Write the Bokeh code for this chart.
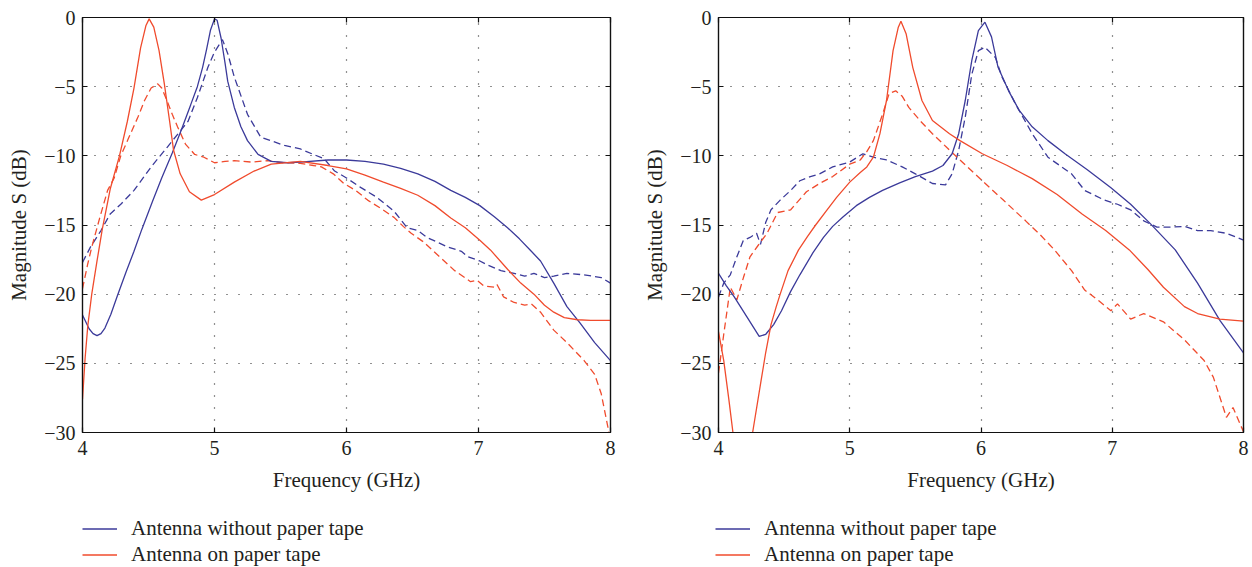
from bokeh.plotting import figure
from bokeh.layouts import row, column
from bokeh.models import LinearAxis, FixedTicker, Legend, LegendItem, Range1d
from bokeh.embed import file_html
from bokeh.resources import INLINE

FONT = "Liberation Serif"
BLUE = "#3b3a9a"
RED = "#f04b2d"
TXT = "#231f20"

x_ticks = [4, 5, 6, 7, 8]
y_ticks = [-30, -25, -20, -15, -10, -5, 0]
legend_labels = ["Antenna without paper tape", "Antenna on paper tape"]
x_label = "Frequency (GHz)"
y_label = "Magnitude S (dB)"

# ---------------- left panel ----------------
L_blue_solid_f = [4.00, 4.05, 4.08, 4.11, 4.14, 4.17, 4.215, 4.265, 4.33, 4.39, 4.45, 4.53, 4.60, 4.68, 4.75, 4.82, 4.87, 4.91, 4.94, 4.97, 5.00, 5.02, 5.05, 5.08, 5.10, 5.15, 5.20, 5.25, 5.33, 5.43, 5.55, 5.65, 5.86, 6.00, 6.14, 6.28, 6.41, 6.54, 6.67, 6.79, 6.90, 7.01, 7.12, 7.22, 7.31, 7.40, 7.47, 7.57, 7.67, 7.77, 7.88, 8.00]
L_blue_solid_db = [-21.5, -22.5, -22.85, -23.0, -22.85, -22.45, -21.45, -20.1, -18.4, -16.9, -15.3, -13.3, -11.6, -9.8, -8.1, -6.3, -5.0, -3.6, -2.3, -0.9, -0.1, -0.2, -1.5, -3.3, -4.6, -6.5, -7.9, -8.9, -9.9, -10.4, -10.5, -10.45, -10.3, -10.3, -10.4, -10.6, -10.9, -11.3, -11.85, -12.5, -13.0, -13.6, -14.4, -15.2, -16.0, -16.9, -17.6, -19.2, -20.9, -22.1, -23.5, -24.8]

L_red_solid_f = [4.00, 4.02, 4.04, 4.07, 4.11, 4.15, 4.21, 4.28, 4.34, 4.39, 4.44, 4.48, 4.505, 4.54, 4.58, 4.62, 4.66, 4.69, 4.74, 4.81, 4.90, 5.00, 5.15, 5.30, 5.43, 5.65, 5.86, 6.00, 6.14, 6.28, 6.41, 6.54, 6.67, 6.79, 6.90, 7.01, 7.09, 7.22, 7.32, 7.42, 7.50, 7.57, 7.65, 7.75, 7.85, 8.00]
L_red_solid_db = [-27.6, -24.6, -22.3, -20.0, -17.6, -15.3, -12.4, -10.0, -7.5, -5.1, -2.2, -0.6, -0.1, -0.7, -2.4, -4.8, -7.5, -9.6, -11.3, -12.6, -13.2, -12.8, -11.9, -11.1, -10.6, -10.4, -10.7, -10.95, -11.4, -11.9, -12.35, -12.85, -13.6, -14.5, -15.2, -16.1, -16.8, -18.2, -19.2, -20.0, -20.8, -21.3, -21.7, -21.85, -21.9, -21.9]

L_blue_dash_f = [4.00, 4.06, 4.14, 4.21, 4.29, 4.39, 4.52, 4.64, 4.80, 4.87, 4.95, 5.00, 5.06, 5.10, 5.15, 5.25, 5.35, 5.53, 5.65, 5.75, 5.83, 5.91, 6.00, 6.11, 6.23, 6.36, 6.46, 6.54, 6.61, 6.77, 6.87, 6.92, 7.01, 7.07, 7.17, 7.27, 7.35, 7.42, 7.50, 7.57, 7.67, 7.80, 7.93, 8.00]
L_blue_dash_db = [-17.7, -16.6, -15.4, -14.2, -13.5, -12.5, -10.8, -9.4, -7.5, -5.8, -3.6, -2.5, -1.6, -2.6, -4.3, -7.0, -8.65, -9.25, -9.5, -9.9, -10.2, -11.1, -11.6, -12.3, -13.0, -14.0, -15.2, -15.4, -15.9, -16.6, -16.9, -17.3, -17.6, -17.9, -18.3, -18.5, -18.7, -18.5, -18.8, -18.7, -18.5, -18.6, -18.8, -19.2]

L_red_dash_f = [4.00, 4.04, 4.07, 4.13, 4.19, 4.24, 4.29, 4.35, 4.42, 4.47, 4.52, 4.57, 4.60, 4.64, 4.68, 4.72, 4.78, 4.85, 4.92, 5.00, 5.08, 5.15, 5.28, 5.40, 5.52, 5.65, 5.75, 5.81, 5.90, 5.98, 6.07, 6.16, 6.26, 6.36, 6.43, 6.49, 6.58, 6.66, 6.74, 6.82, 6.94, 6.99, 7.04, 7.12, 7.14, 7.19, 7.27, 7.35, 7.40, 7.47, 7.57, 7.67, 7.80, 7.88, 7.93, 7.98, 8.00]
L_red_dash_db = [-19.6, -17.8, -16.6, -14.5, -12.5, -11.6, -10.0, -8.7, -7.2, -6.0, -5.1, -4.8, -5.1, -6.0, -7.0, -7.9, -9.15, -9.9, -10.1, -10.5, -10.4, -10.35, -10.45, -10.35, -10.5, -10.55, -10.7, -10.8, -11.3, -12.0, -12.5, -13.2, -13.8, -14.45, -15.1, -15.6, -16.2, -16.9, -17.6, -18.3, -19.1, -19.0, -19.4, -19.5, -19.3, -20.2, -20.6, -20.8, -20.7, -21.3, -22.6, -23.5, -24.8, -25.8, -27.2, -29.6, -31.0]

# ---------------- right panel ----------------
R_blue_solid_f = [4.00, 4.06, 4.12, 4.22, 4.31, 4.36, 4.42, 4.48, 4.55, 4.62, 4.72, 4.80, 4.87, 4.95, 5.05, 5.15, 5.25, 5.38, 5.50, 5.63, 5.71, 5.78, 5.83, 5.88, 5.93, 5.98, 6.03, 6.08, 6.13, 6.21, 6.29, 6.39, 6.51, 6.64, 6.81, 6.99, 7.14, 7.29, 7.48, 7.65, 7.82, 8.00]
R_blue_solid_db = [-18.5, -19.4, -20.2, -21.7, -23.05, -22.9, -22.2, -21.2, -19.8, -18.6, -17.0, -15.9, -15.1, -14.4, -13.6, -13.0, -12.5, -11.95, -11.5, -11.1, -10.7, -9.85, -8.4, -6.0, -3.1, -0.95, -0.34, -1.4, -3.6, -5.3, -6.7, -7.9, -8.9, -9.85, -11.0, -12.3, -13.5, -14.9, -16.8, -19.2, -21.9, -24.25]

R_red_solid_f = [4.00, 4.04, 4.08, 4.11, 4.15, 4.19, 4.23, 4.26, 4.32, 4.36, 4.40, 4.44, 4.47, 4.53, 4.61, 4.68, 4.74, 4.82, 4.90, 5.00, 5.08, 5.13, 5.18, 5.23, 5.28, 5.33, 5.37, 5.39, 5.43, 5.48, 5.55, 5.63, 5.76, 5.84, 6.01, 6.20, 6.39, 6.58, 6.77, 6.95, 7.13, 7.27, 7.39, 7.55, 7.65, 7.82, 8.00]
R_red_solid_db = [-22.7, -24.8, -27.7, -30.0, -35.0, -36.0, -33.0, -30.0, -26.5, -24.2, -22.2, -20.9, -20.0, -18.3, -16.8, -15.8, -15.0, -14.0, -13.0, -11.9, -11.2, -10.8, -10.1, -8.4, -6.0, -2.4, -0.7, -0.27, -1.2, -3.6, -6.0, -7.45, -8.4, -8.9, -9.85, -10.7, -11.65, -12.8, -14.2, -15.4, -16.8, -18.2, -19.5, -20.9, -21.4, -21.8, -21.95]

R_blue_dash_f = [4.00, 4.04, 4.09, 4.14, 4.19, 4.24, 4.29, 4.32, 4.36, 4.40, 4.47, 4.55, 4.62, 4.70, 4.77, 4.87, 5.00, 5.10, 5.18, 5.28, 5.40, 5.50, 5.63, 5.73, 5.78, 5.83, 5.88, 5.93, 5.98, 6.03, 6.11, 6.16, 6.26, 6.39, 6.51, 6.69, 6.79, 6.94, 7.04, 7.14, 7.24, 7.34, 7.45, 7.55, 7.65, 7.75, 7.87, 7.95, 8.00]
R_blue_dash_db = [-20.2, -19.2, -18.6, -17.3, -16.1, -15.9, -15.6, -16.4, -14.8, -13.9, -13.2, -12.5, -11.8, -11.5, -11.3, -10.8, -10.45, -9.85, -10.1, -10.3, -10.8, -11.3, -12.0, -12.1, -11.3, -9.6, -7.2, -4.1, -2.4, -2.15, -2.9, -4.3, -6.2, -8.4, -10.1, -11.3, -12.5, -13.2, -13.5, -13.9, -14.7, -15.15, -15.15, -15.1, -15.4, -15.4, -15.6, -15.9, -16.1]

R_red_dash_f = [4.00, 4.04, 4.09, 4.14, 4.19, 4.24, 4.30, 4.37, 4.45, 4.55, 4.67, 4.77, 4.87, 5.00, 5.08, 5.13, 5.18, 5.25, 5.30, 5.35, 5.40, 5.45, 5.54, 5.63, 5.74, 5.84, 6.01, 6.17, 6.34, 6.45, 6.56, 6.69, 6.79, 6.90, 6.99, 7.04, 7.14, 7.24, 7.39, 7.55, 7.70, 7.77, 7.87, 7.92, 8.00]
R_red_dash_db = [-25.7, -22.9, -19.5, -20.4, -18.8, -17.3, -16.5, -15.6, -14.1, -13.9, -12.6, -12.0, -11.5, -10.6, -10.3, -9.7, -8.9, -7.0, -5.5, -5.3, -5.7, -6.5, -7.5, -8.4, -9.4, -10.3, -11.8, -13.2, -14.7, -15.7, -16.8, -18.3, -19.7, -20.5, -21.2, -20.7, -21.8, -21.4, -22.0, -23.3, -24.8, -26.0, -28.9, -28.2, -29.95]

MAIN_H = 505
LEG_H = 62


def style_axis(ax, ticks, show_labels):
    ax.ticker = FixedTicker(ticks=ticks)
    ax.major_tick_in = 5
    ax.major_tick_out = 0
    ax.minor_tick_in = 0
    ax.minor_tick_out = 0
    ax.axis_line_color = "#111111"
    ax.axis_line_width = 1.2
    ax.major_tick_line_color = "#111111"
    ax.major_tick_line_width = 1.2
    if show_labels:
        ax.major_label_overrides = {t: (("\u2212" + str(-t)) if t < 0 else str(t)) for t in ticks}
        ax.major_label_text_font = FONT
        ax.major_label_text_font_size = "20px"
        ax.major_label_text_color = TXT
    else:
        ax.major_label_overrides = {t: "" for t in ticks}
        ax.major_label_text_font_size = "0px"
        ax.major_label_standoff = 0


def make_panel(series, width, border_left, border_right):
    p = figure(width=width, height=MAIN_H, x_range=Range1d(4, 8), y_range=Range1d(-30, 0),
               output_backend="svg", toolbar_location=None,
               min_border_left=border_left, min_border_right=border_right,
               min_border_top=17, min_border_bottom=MAIN_H - 17 - 415)
    p.outline_line_color = "#111111"
    p.outline_line_width = 1.2
    p.background_fill_color = "white"
    p.border_fill_color = "white"

    style_axis(p.xaxis[0], x_ticks, True)
    style_axis(p.yaxis[0], y_ticks, True)
    p.xaxis[0].major_label_standoff = 8
    p.yaxis[0].major_label_standoff = 7
    p.xaxis[0].axis_label = x_label
    p.yaxis[0].axis_label = y_label
    for ax in (p.xaxis[0], p.yaxis[0]):
        ax.axis_label_text_font = FONT
        ax.axis_label_text_font_size = "21px"
        ax.axis_label_text_font_style = "normal"
        ax.axis_label_text_color = TXT
    p.xaxis[0].axis_label_standoff = 10
    p.yaxis[0].axis_label_standoff = 10

    top = LinearAxis()
    style_axis(top, x_ticks, False)
    p.add_layout(top, "above")
    right = LinearAxis()
    style_axis(right, y_ticks, False)
    p.add_layout(right, "right")

    p.xgrid.ticker = FixedTicker(ticks=x_ticks)
    p.ygrid.ticker = FixedTicker(ticks=y_ticks)
    p.grid.grid_line_color = "#222222"
    p.grid.grid_line_dash = "1 11"
    p.grid.grid_line_width = 1.2

    (bf, bdb), (rf, rdb), (bdf, bddb), (rdf, rddb) = series
    p.line(bdf, bddb, line_color=BLUE, line_width=1.3, line_dash="7 4")
    p.line(rdf, rddb, line_color=RED, line_width=1.3, line_dash="7 4")
    p.line(bf, bdb, line_color=BLUE, line_width=1.3)
    p.line(rf, rdb, line_color=RED, line_width=1.3)
    return p


def make_legend(series, width, dx):
    # legend strip below a panel; the series lie outside its (0..1) view, only the key glyphs show
    (bf, bdb), (rf, rdb) = series
    q = figure(width=width, height=LEG_H, x_range=Range1d(0, 1), y_range=Range1d(0, 1),
               x_axis_type=None, y_axis_type=None, output_backend="svg", toolbar_location=None,
               min_border_left=0, min_border_right=0, min_border_top=0, min_border_bottom=0)
    q.outline_line_color = None
    q.background_fill_color = "white"
    q.border_fill_color = "white"
    r_b = q.line(bf, bdb, line_color=BLUE, line_width=1.3)
    r_r = q.line(rf, rdb, line_color=RED, line_width=1.3)
    legend = Legend(items=[LegendItem(label=legend_labels[0], renderers=[r_b]),
                           LegendItem(label=legend_labels[1], renderers=[r_r])],
                    location=(dx, 0), orientation="vertical",
                    glyph_width=35, glyph_height=25, label_height=25, spacing=1,
                    padding=0, margin=0, label_standoff=14,
                    label_text_font=FONT, label_text_font_size="21px", label_text_color=TXT,
                    background_fill_alpha=0, border_line_alpha=0)
    q.add_layout(legend, "center")
    return q


left = make_panel([(L_blue_solid_f, L_blue_solid_db), (L_red_solid_f, L_red_solid_db),
                   (L_blue_dash_f, L_blue_dash_db), (L_red_dash_f, L_red_dash_db)],
                  640, 82, 30)
right = make_panel([(R_blue_solid_f, R_blue_solid_db), (R_red_solid_f, R_red_solid_db),
                    (R_blue_dash_f, R_blue_dash_db), (R_red_dash_f, R_red_dash_db)],
                   612, 74, 9)
leg_left = make_legend([(L_blue_solid_f, L_blue_solid_db), (L_red_solid_f, L_red_solid_db)], 640, 82)
leg_right = make_legend([(R_blue_solid_f, R_blue_solid_db), (R_red_solid_f, R_red_solid_db)], 612, 75)

layout = column(row(left, right), row(leg_left, leg_right))
open("out.html", "w").write(file_html(layout, INLINE))
